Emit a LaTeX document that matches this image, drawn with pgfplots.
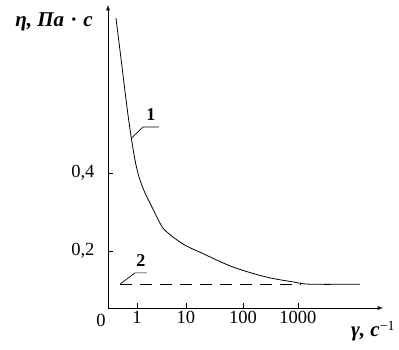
\documentclass[border=0pt]{standalone}
\usepackage{pgfplots}
\pgfplotsset{compat=1.18}
\usepackage{fontspec}
\setmainfont{Liberation Serif}
\begin{document}
\begin{tikzpicture}
\path[use as bounding box] (0,0) rectangle (399pt,350pt);
\begin{axis}[
  at={(108pt,42pt)}, anchor=south west,
  scale only axis, width=275pt, height=303pt,
  xmin=-0.537, xmax=4.556, ymin=0.054, ymax=0.831,
  axis lines=left,
  axis line style={line width=0.9pt, -latex},
  tick align=inside, major tick length=5pt,
  tick style={line width=0.8pt, black},
  xtick={0,0.907,1.963,2.981},
  xticklabels={1,10,100,1000},
  ytick={0.2,0.4},
  yticklabels={{0,2},{0,4}},
  /pgf/number format/assume math mode=true,
  ticklabel style={font=\fontsize{18.5}{18.5}\selectfont},
  xticklabel style={yshift=0pt},
  yticklabel style={xshift=-10pt},
  clip=false,
]
\addplot[black, line width=0.8pt, smooth, tension=0.5] coordinates {
(-0.389,0.797) (-0.315,0.715) (-0.241,0.631) (-0.167,0.549) (-0.093,0.479)
(-0.019,0.421) (0.056,0.382) (0.148,0.349) (0.241,0.323) (0.370,0.287)
(0.481,0.259) (0.648,0.238) (0.889,0.215) (1.167,0.197) (1.778,0.159)
(2.407,0.133) (2.889,0.121) (3.204,0.115) (4.130,0.115)};
\addplot[black, line width=0.8pt, dash pattern=on 12pt off 8pt] coordinates {
(-0.315,0.115) (3.02,0.115)};
\draw[black, line width=0.7pt] (axis cs:-0.10,0.49) -- (axis cs:0.111,0.518) -- (axis cs:0.407,0.518);
\node[font=\fontsize{18}{18}\selectfont\bfseries] at (axis cs:0.259,0.550) {1};
\draw[black, line width=0.7pt] (axis cs:-0.315,0.115) -- (axis cs:-0.037,0.144) -- (axis cs:0.185,0.144);
\node[font=\fontsize{18}{18}\selectfont\bfseries] at (axis cs:0.074,0.175) {2};
\end{axis}
\node[font=\fontsize{18.5}{18.5}\selectfont, anchor=base] at (101pt,23pt) {0};
\node[font=\fontsize{21}{21}\selectfont\bfseries\itshape] at (54pt,328pt) {η, Па\,\,·\,\,с};
\node[font=\fontsize{21}{21}\selectfont\bfseries\itshape, anchor=base west, inner sep=0pt] at (351pt,13pt) {γ, с\raisebox{6pt}{\fontsize{14}{14}\selectfont\upshape\mdseries −1}};
\end{tikzpicture}
\end{document}
